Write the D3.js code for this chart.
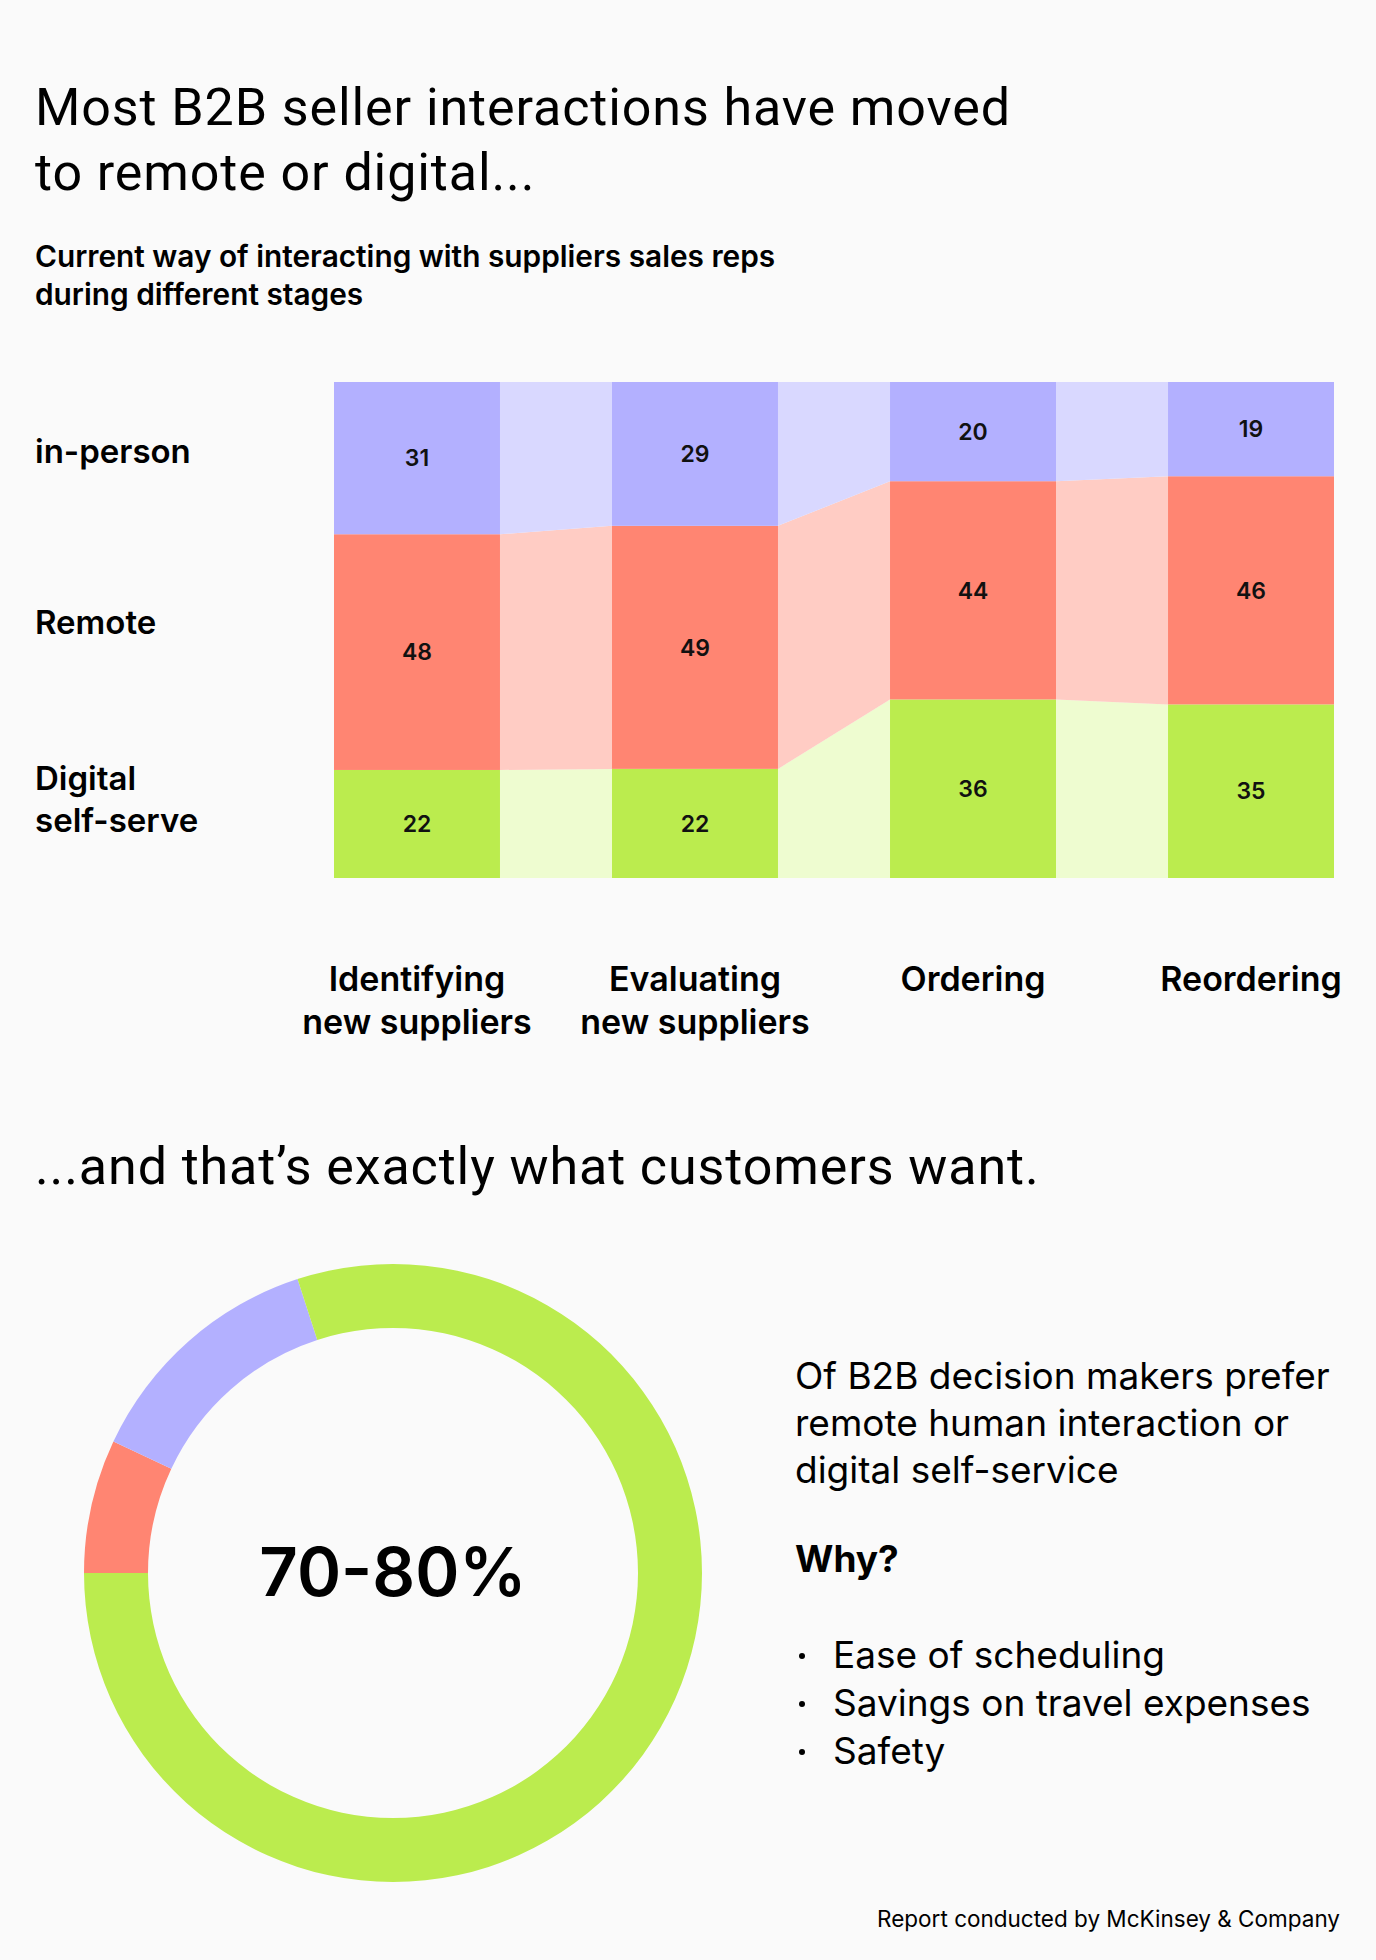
<!DOCTYPE html>
<html lang="en">
<head>
    <meta charset="UTF-8">
    <title>B2B seller interactions</title>
    <style>
        body {
            background-color: #fafafa;
            margin: 0;
            overflow: hidden;
        }
        svg {
            display: block;
        }
        .headline {
            font-family: Roboto, sans-serif;
            font-size: 52px;
            font-weight: 400;
            letter-spacing: 0.9px;
            fill: #000;
        }
        .sub {
            font-family: Inter, sans-serif;
            font-size: 29.8px;
            font-weight: 600;
            fill: #000;
        }
        .row-label {
            font-family: Inter, sans-serif;
            font-size: 33px;
            font-weight: 600;
            fill: #000;
        }
        .col-label {
            font-family: Inter, sans-serif;
            font-size: 34px;
            font-weight: 600;
            fill: #000;
        }
        .value {
            font-family: Inter, sans-serif;
            font-size: 23px;
            font-weight: 600;
            fill: #111;
        }
        .body {
            font-family: Inter, sans-serif;
            font-size: 37px;
            font-weight: 400;
            fill: #000;
        }
        .big {
            font-family: Inter, sans-serif;
            font-size: 67px;
            font-weight: 600;
            fill: #000;
        }
        .foot {
            font-family: Inter, sans-serif;
            font-size: 22.5px;
            fill: #000;
        }
    </style>
</head>
<body>
    <svg id="chart"></svg>

    <script src="https://d3js.org/d3.v7.min.js"></script>
    <script>
        // data
        const stages = ["Identifying new suppliers", "Evaluating new suppliers", "Ordering", "Reordering"];
        const stageLines = [["Identifying", "new suppliers"], ["Evaluating", "new suppliers"], ["Ordering"], ["Reordering"]];
        const channels = ["in-person", "Remote", "Digital self-serve"];
        const channelLines = [["in-person"], ["Remote"], ["Digital", "self-serve"]];
        const inPerson = [31, 29, 20, 19];
        const remote = [48, 49, 44, 46];
        const digital = [22, 22, 36, 35];

        // donut, clockwise from 9 o'clock
        const donutKeys = ["remote", "inPerson", "digital"];
        const donutShares = [7, 13, 80];
        const donutLabel = "70-80%";

        const sideText = ["Of B2B decision makers prefer", "remote human interaction or", "digital self-service"];
        const reasons = ["Ease of scheduling", "Savings on travel expenses", "Safety"];

        const colors = { inPerson: "#b3b0ff", remote: "#ff8572", digital: "#bbec4e" };
        const lightColors = { inPerson: "#d9d8ff", remote: "#ffccc4", digital: "#eefcd0" };

        const W = 1376, H = 1960;
        const svg = d3.select("#chart").attr("width", W).attr("height", H);

        // headings
        svg.append("text").attr("class", "headline").attr("x", 35).attr("y", 125)
            .text("Most B2B seller interactions have moved");
        svg.append("text").attr("class", "headline").attr("x", 35).attr("y", 190)
            .text("to remote or digital...");
        svg.append("text").attr("class", "sub").attr("x", 35).attr("y", 267)
            .text("Current way of interacting with suppliers sales reps");
        svg.append("text").attr("class", "sub").attr("x", 35).attr("y", 305)
            .text("during different stages");

        // stacked bars
        const rows = stages.map((s, i) => ({ stage: s, inPerson: inPerson[i], remote: remote[i], digital: digital[i] }));
        const keys = ["digital", "remote", "inPerson"];
        const series = d3.stack().keys(keys).offset(d3.stackOffsetExpand)(rows);

        const x = d3.scaleBand().domain(stages).range([334, 1334]).paddingInner(0.403);
        const y = d3.scaleLinear().domain([0, 1]).range([878, 382]);
        const bw = x.bandwidth();

        // connectors between neighbouring bars
        const band = d3.area().x(d => d.x).y0(d => y(d.seg[0])).y1(d => y(d.seg[1]));
        series.forEach(s => {
            for (let i = 0; i < stages.length - 1; i++) {
                const pts = [
                    { x: x(stages[i]) + bw, seg: s[i] },
                    { x: x(stages[i + 1]), seg: s[i + 1] }
                ];
                svg.append("path")
                    .attr("d", band(pts))
                    .attr("fill", lightColors[s.key]);
            }
        });

        const groups = svg.selectAll(".layer")
            .data(series)
            .join("g")
            .attr("class", "layer")
            .attr("fill", d => colors[d.key]);

        groups.selectAll("rect")
            .data(d => d)
            .join("rect")
            .attr("x", d => x(d.data.stage))
            .attr("y", d => y(d[1]))
            .attr("width", bw)
            .attr("height", d => y(d[0]) - y(d[1]));

        series.forEach(s => {
            svg.selectAll(null)
                .data(s)
                .join("text")
                .attr("class", "value")
                .attr("x", d => x(d.data.stage) + bw / 2)
                .attr("y", d => (y(d[0]) + y(d[1])) / 2)
                .attr("dy", "0.36em")
                .attr("text-anchor", "middle")
                .text(d => d.data[s.key]);
        });

        // row labels on the left
        const rowY = [463, 634, 790];
        channelLines.forEach((lines, i) => {
            const t = svg.append("text").attr("class", "row-label").attr("x", 35).attr("y", rowY[i]);
            lines.forEach((l, j) => t.append("tspan").attr("x", 35).attr("dy", j ? 42 : 0).text(l));
        });

        // stage labels under the bars
        stageLines.forEach((lines, i) => {
            const t = svg.append("text").attr("class", "col-label")
                .attr("text-anchor", "middle")
                .attr("x", x(stages[i]) + bw / 2).attr("y", 991);
            lines.forEach((l, j) => t.append("tspan").attr("x", x(stages[i]) + bw / 2).attr("dy", j ? 43 : 0).text(l));
        });

        // second heading
        svg.append("text").attr("class", "headline").attr("x", 35).attr("y", 1184)
            .text("...and that\u2019s exactly what customers want.");

        // donut
        const cx = 393, cy = 1573;
        const pie = d3.pie().sort(null).startAngle(-Math.PI / 2).endAngle(Math.PI * 1.5);
        const arc = d3.arc().innerRadius(245).outerRadius(309);
        const donut = svg.append("g").attr("transform", `translate(${cx},${cy})`);
        donut.selectAll("path")
            .data(pie(donutShares))
            .join("path")
            .attr("d", arc)
            .attr("fill", (d, i) => colors[donutKeys[i]]);
        donut.append("text").attr("class", "big")
            .attr("text-anchor", "middle")
            .attr("y", 23)
            .text(donutLabel);

        // text on the right
        sideText.forEach((l, i) => {
            svg.append("text").attr("class", "body").attr("x", 795).attr("y", 1389 + i * 47).text(l);
        });
        svg.append("text").attr("class", "body").attr("x", 795).attr("y", 1572)
            .style("font-weight", 700).text("Why?");
        reasons.forEach((r, i) => {
            svg.append("circle").attr("cx", 802).attr("cy", 1656 + i * 48).attr("r", 3).attr("fill", "#000");
            svg.append("text").attr("class", "body").attr("x", 833).attr("y", 1668 + i * 48).text(r);
        });

        svg.append("text").attr("class", "foot")
            .attr("x", 1340).attr("y", 1927)
            .attr("text-anchor", "end")
            .text("Report conducted by McKinsey & Company");
    </script>
</body>
</html>
